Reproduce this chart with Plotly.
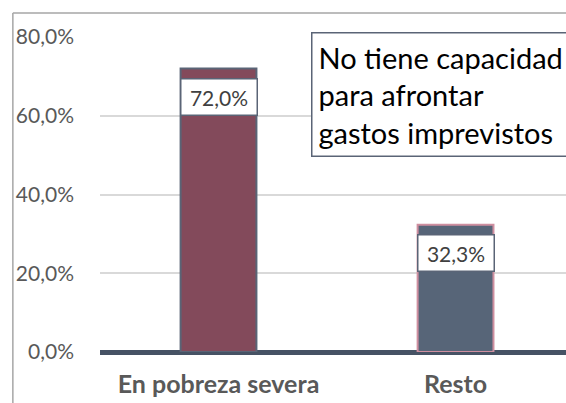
import plotly.graph_objects as go

categories = ["En pobreza severa", "Resto"]
values = [72.0, 32.3]
labels = ["72,0%", "32,3%"]
fills = ["#834a5b", "#576578"]
edges = ["#5a6476", "#cf8fa0"]
tick_vals = [0, 20, 40, 60, 80]
tick_text = ["0,0%", "20,0%", "40,0%", "60,0%", "80,0%"]
box_text = "No tiene capacidad<br>para afrontar<br>gastos imprevistos"

fig = go.Figure()

fig.add_trace(
    go.Bar(
        x=categories,
        y=values,
        width=0.32,
        marker=dict(color=fills, line=dict(color=edges, width=2)),
        hoverinfo="skip",
    )
)

# data labels in white boxes just under the bar tops
for cat, val, lab in zip(categories, values, labels):
    fig.add_annotation(
        x=cat,
        y=val,
        text=lab,
        showarrow=False,
        yanchor="top",
        yshift=-9,
        width=71,
        height=31,
        bgcolor="white",
        bordercolor="#5a6476",
        borderwidth=1.5,
        borderpad=2,
        font=dict(family="Lato", size=21, color="#404040"),
    )

# title box at top right
fig.add_annotation(
    xref="paper",
    yref="paper",
    x=0.452,
    y=1.017,
    xanchor="left",
    yanchor="top",
    align="left",
    text=box_text,
    showarrow=False,
    bgcolor="white",
    bordercolor="#5a6476",
    borderwidth=1.5,
    borderpad=6,
    font=dict(family="Lato", size=29, color="black"),
)

# chart area frame (left and top edges)
fig.add_shape(type="line", xref="paper", yref="paper", x0=-0.187, x1=-0.187, y0=-0.2, y1=1.076,
              line=dict(color="#a6a6a6", width=1.5))
fig.add_shape(type="line", xref="paper", yref="paper", x0=-0.187, x1=1.1, y0=1.076, y1=1.076,
              line=dict(color="#a6a6a6", width=1.5))

fig.update_layout(
    width=566,
    height=403,
    margin=dict(l=100, r=0, t=37, b=51),
    plot_bgcolor="white",
    paper_bgcolor="white",
    showlegend=False,
    font=dict(family="Lato", color="#595959"),
    xaxis=dict(
        range=[-0.5, 1.466],
        showgrid=False,
        showline=False,
        zeroline=False,
        tickfont=dict(family="Lato", size=25, color="#595959", weight="bold"),
        ticks="",
        ticklabelstandoff=15,
    ),
    yaxis=dict(
        range=[0, 80],
        tickvals=tick_vals,
        ticktext=tick_text,
        showgrid=True,
        gridcolor="#d9d9d9",
        gridwidth=1.5,
        zeroline=True,
        zerolinecolor="#465264",
        zerolinewidth=5,
        showline=False,
        tickfont=dict(family="Lato", size=21, color="#595959"),
        ticklabelstandoff=25,
    ),
)

fig.write_html(
    "out.html",
    config={"displayModeBar": False},
    post_script="document.body.style.margin='0';document.body.style.overflow='hidden';",
)
